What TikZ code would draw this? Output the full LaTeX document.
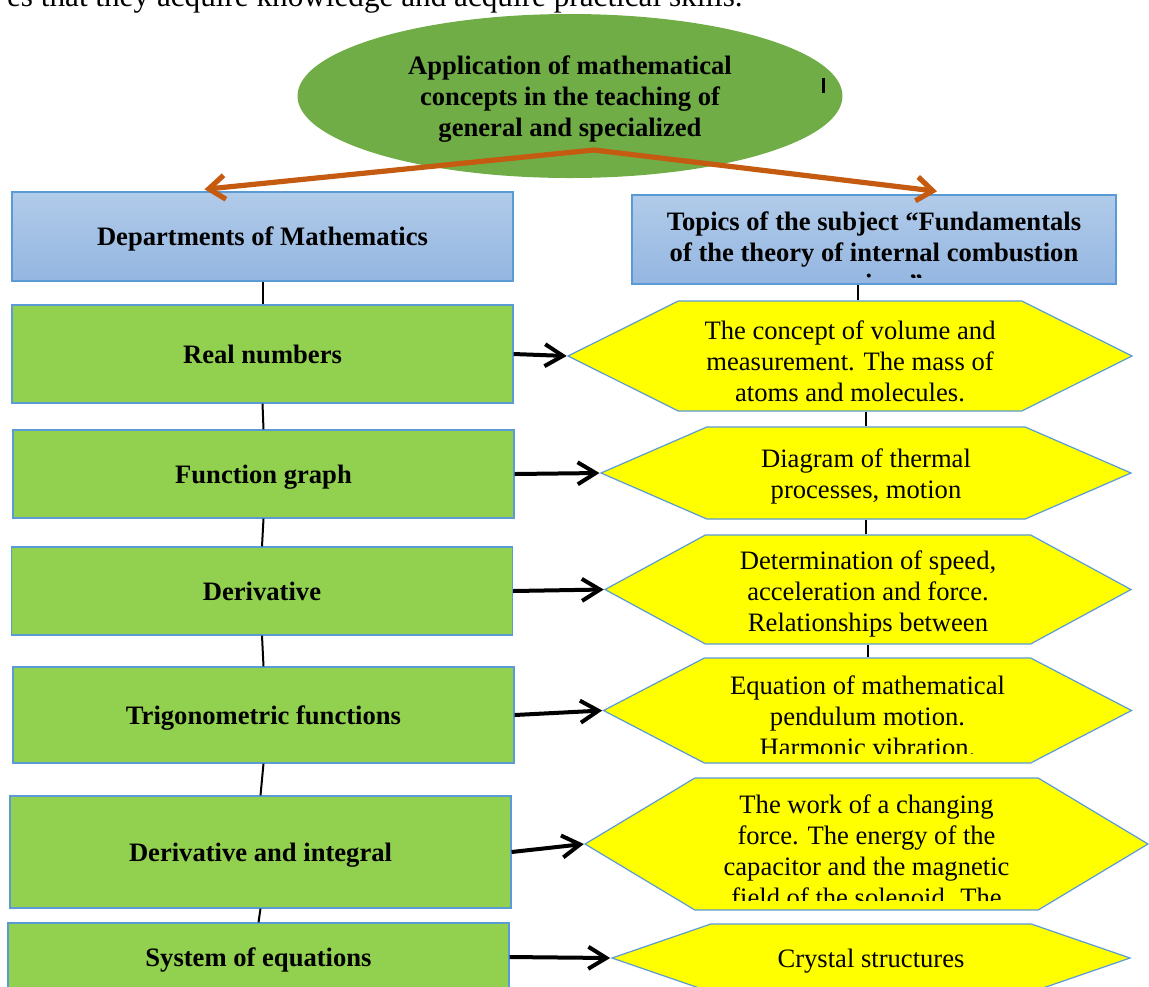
\documentclass[tikz,border=0pt]{standalone}
\usepackage{fontspec}
\setmainfont{Liberation Serif}
\usetikzlibrary{arrows.meta,shapes.geometric,shapes.symbols}

\definecolor{ovalgreen}{HTML}{70AD47}
\definecolor{boxgreen}{HTML}{92D050}
\definecolor{topicyellow}{HTML}{FFFF00}
\definecolor{edgeblue}{HTML}{5B9BD5}
\definecolor{headtop}{HTML}{B1CBE9}
\definecolor{headbot}{HTML}{94B6E1}
\definecolor{branchorange}{HTML}{C55A11}

\newcommand{\chartsize}{\fontsize{13.3}{15.5}\selectfont}

\tikzstyle{head} = [rectangle, draw=edgeblue, line width=0.7pt, top color=headtop,
    bottom color=headbot, font=\chartsize\bfseries, minimum width=250.5pt, minimum height=44.5pt,
    text height=9pt, text depth=0pt]
\tikzstyle{dept} = [rectangle, draw=edgeblue, line width=0.6pt, fill=boxgreen,
    font=\chartsize\bfseries, minimum width=250.5pt, text height=9pt, text depth=0pt]
\tikzstyle{topic} = [signal, signal to=west and east, draw=edgeblue, line width=0.6pt,
    fill=topicyellow, inner sep=0pt]
\tikzstyle{words} = [align=center, inner sep=0pt]
\tikzstyle{link} = [line width=1pt]
\tikzstyle{feed} = [->, line width=2pt]
\tikzstyle{branch} = [-{Straight Barb[length=8pt,width=12pt]}, draw=branchorange, line width=2.6pt]

\begin{document}
\begin{tikzpicture}[x=0.5pt,y=-0.5pt,font=\chartsize,
                    >={Straight Barb[length=9pt,width=11pt]}]
  \useasboundingbox (0,0) rectangle (1149,986);
  \clip (0,0) rectangle (1149,986);

  % tail of the running text above
  \node[anchor=base east, inner sep=0pt, font=\fontsize{15.6}{18}\selectfont] (lead) at (743,6)
    {es that they acquire knowledge and acquire practical skills.};

  \node[ellipse, fill=ovalgreen, minimum width=272.5pt, minimum height=82pt] (root) at (570,96) {};
  \node[words, font=\chartsize\bfseries] (roottext) at (570,99.5)
    {Application of mathematical\\concepts in the teaching of\\general and specialized};
  \node[fill=black, inner sep=0pt, minimum width=1.5pt, minimum height=7.5pt] (caret) at (823,85) {};
  \coordinate (fork) at (594,150);

  \node[head]                     (hdrL) at (262.5,236.5) {Departments of Mathematics};
  \node[head, minimum width=242pt] (hdrR) at (874,239.5) {};
  \begin{scope}
    \clip (640,200) rectangle (1110,277);
    \node[words, font=\chartsize\bfseries] (hdrRtext) at (874,255.5)
      {Topics of the subject “Fundamentals\\of the theory of internal combustion\\engines”};
  \end{scope}

  % departments of mathematics
  \node[dept, minimum height=49pt] (real)   at (262.5,354) {Real numbers};
  \node[dept, minimum height=44pt] (graph)  at (263.5,474) {Function graph};
  \node[dept, minimum height=44pt] (deriv)  at (262,591)   {Derivative};
  \node[dept, minimum height=48pt] (trig)   at (263.5,715) {Trigonometric functions};
  \node[dept, minimum height=56pt] (integ)  at (260.5,852) {Derivative and integral};
  \node[dept, minimum height=34pt] (system) at (258.5,957) {System of equations};

  % topics of the subject
  \node[topic, minimum width=282pt, minimum height=55pt, signal pointer angle=53] (volume) at (850,356) {};
  \node[topic, minimum width=265pt, minimum height=46pt, signal pointer angle=47] (thermal) at (866,473) {};
  \node[topic, minimum width=263pt, minimum height=54.5pt, signal pointer angle=57] (speed) at (868,589.5) {};
  \node[topic, minimum width=264pt, minimum height=52.5pt, signal pointer angle=55] (pendulum) at (867.5,710.5) {};
  \node[topic, minimum width=281.5pt, minimum height=66pt, signal pointer angle=62] (work) at (866.5,844) {};
  \node[topic, minimum width=259pt, minimum height=34pt, signal pointer angle=38] (crystal) at (871,958) {};

  \node[words] (volumetext) at (850,361)
    {The concept of volume and\\measurement. The mass of\\atoms and molecules.};
  \node[words] (thermaltext) at (866,476) {Diagram of thermal\\processes, motion};
  \node[words] (speedtext) at (868,593.5)
    {Determination of speed,\\acceleration and force.\\Relationships between};
  \begin{scope}
    \clip (610,655) rectangle (1125,753);
    \node[words] (pendulumtext) at (867.5,716)
      {Equation of mathematical\\pendulum motion.\\Harmonic vibration.};
  \end{scope}
  \begin{scope}
    \clip (595,780) rectangle (1140,900);
    \node[words] (worktext) at (866.5,850.5)
      {The work of a changing\\force. The energy of the\\capacitor and the magnetic\\field of the solenoid. The};
  \end{scope}
  \node[words] (crystaltext) at (871,961) {Crystal structures};

  % columns
  \draw[link] (hdrL.south) -- (real.north);
  \draw[link] (real.south) -- (graph.north);
  \draw[link] (graph.south) -- (deriv.north);
  \draw[link] (deriv.south) -- (trig.north);
  \draw[link] (trig.south) -- (integ.north);
  \draw[link] (integ.south) -- (system.north);
  \draw[link] ([xshift=4pt]volume.north) -- ([xshift=4pt]volume.north |- hdrR.south);
  \draw[link] (thermal.north) -- (thermal.north |- volume.south);
  \draw[link] (thermal.south) -- (thermal.south |- speed.north);
  \draw[link] (pendulum.north) -- (pendulum.north |- speed.south);

  % rows
  \draw[feed] (real.east) -- (volume.west);
  \draw[feed] (graph.east) -- (thermal.west);
  \draw[feed] (deriv.east) -- (speed.west);
  \draw[feed] (trig.east) -- (pendulum.west);
  \draw[feed] (integ.east) -- (work.west);
  \draw[feed] (system.east) -- (crystal.west);

  \draw[branch] (fork) -- ([xshift=-29pt,yshift=1pt]hdrL.north);
  \draw[branch] (fork) -- ([xshift=31.5pt,yshift=1.5pt]hdrR.north);
\end{tikzpicture}
\end{document}
